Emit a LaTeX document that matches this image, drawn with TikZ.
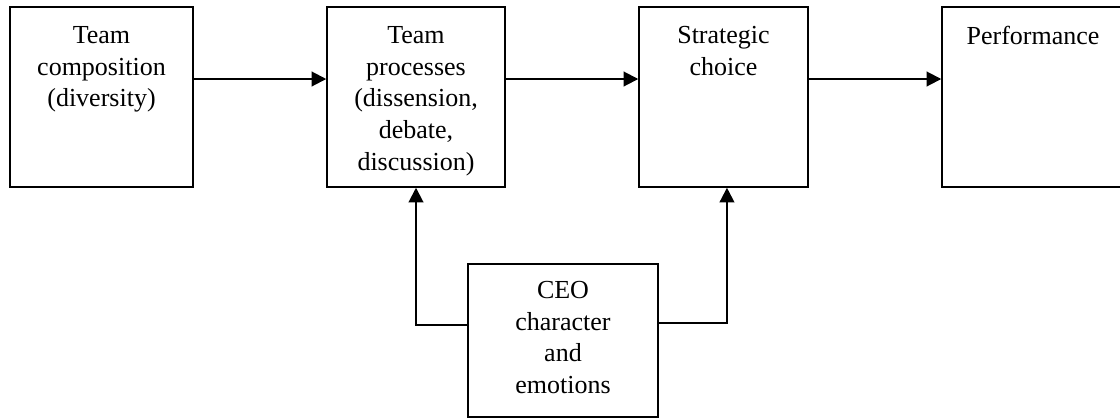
\documentclass[tikz,border=0pt]{standalone}
\usepackage{fontspec}
\setmainfont{Liberation Serif}
\usetikzlibrary{arrows.meta}
\begin{document}
\begin{tikzpicture}[x=0.75pt,y=-0.75pt,
  box/.style={draw,line width=1.1pt,rectangle,inner sep=0pt},
  txt/.style={align=center,inner sep=0pt,anchor=north,
    font=\fontsize{19.5pt}{23.8pt}\selectfont},
  arr/.style={line width=1.5pt,-{Triangle[length=11pt,width=11pt]}}]
\useasboundingbox (0,0) rectangle (1120,419);
% boxes
\node[box,minimum width=137.25pt,minimum height=135pt] (comp) at (101.5,97) {};
\node[box,minimum width=133.5pt,minimum height=135pt] (proc) at (416,97) {};
\node[box,minimum width=126.75pt,minimum height=135pt] (strat) at (723.5,97) {};
\node[box,minimum width=136.5pt,minimum height=135pt] (perf) at (1033,97) {};
\node[box,minimum width=142.5pt,minimum height=114.75pt] (ceo) at (563,340.5) {};
% texts
\node[txt] (tcomp) at (101.5,26) {Team\\composition\\(diversity)};
\node[txt] (tproc) at (416,26) {Team\\processes\\(dissension,\\debate,\\discussion)};
\node[txt] (tstrat) at (723.5,26) {Strategic\\choice};
\node[txt] (tperf) at (1033,26) {Performance};
\node[txt] (tceo) at (563,281) {CEO\\character\\and\\emotions};
% connectors
\draw[arr] ([yshift=13.5pt]comp.east) -- ([yshift=13.5pt]proc.west);
\draw[arr] ([yshift=13.5pt]proc.east) -- ([yshift=13.5pt]strat.west);
\draw[arr] ([yshift=13.5pt]strat.east) -- ([yshift=13.5pt]perf.west);
\draw[arr] ([yshift=11.6pt]ceo.west) -| (proc.south);
\draw[arr] ([yshift=13pt]ceo.east) -| ([xshift=2.6pt]strat.south);
\end{tikzpicture}
\end{document}
